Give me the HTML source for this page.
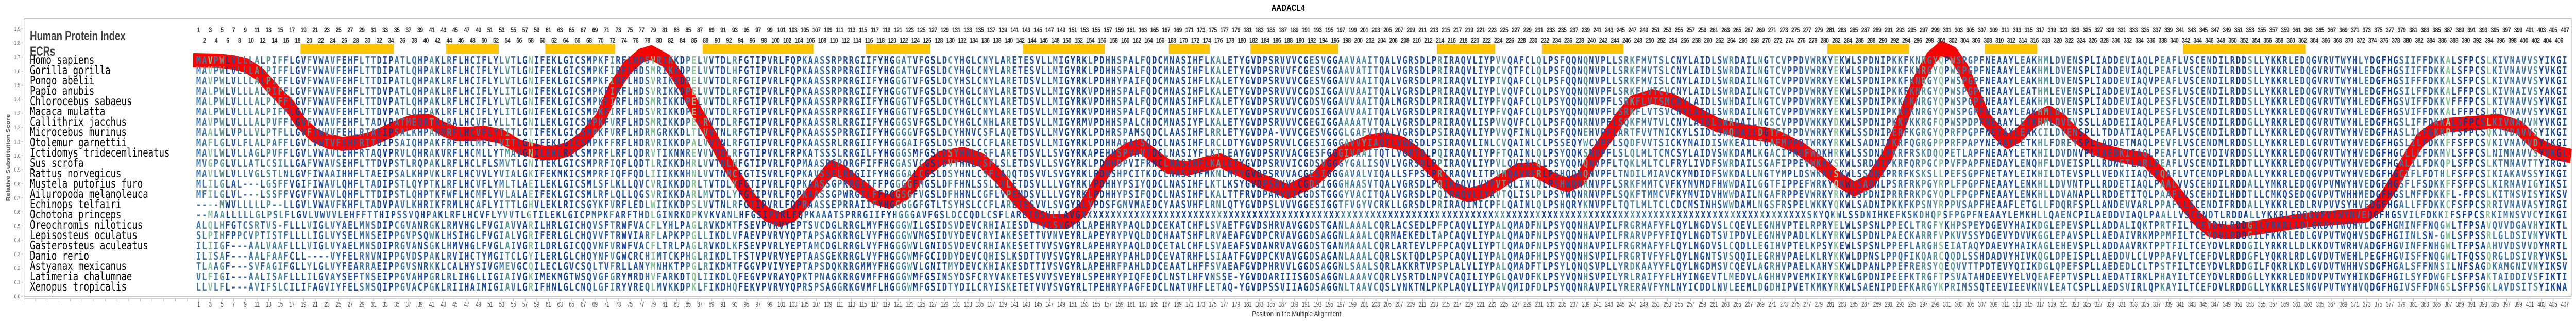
<!DOCTYPE html>
<html><head><meta charset="utf-8"><style>
html,body{margin:0;padding:0;background:#fff;overflow:hidden;width:100%;height:100%;}
#main{position:fixed;left:0;top:0;width:100vw;height:100vh;display:block;}
.nr{position:absolute;display:grid;grid-auto-flow:column;grid-auto-columns:30px;white-space:nowrap;font-family:"Liberation Sans",sans-serif;}
.nr i{font-style:normal;display:block;width:30px;text-align:center;}
.top{font-weight:bold;font-size:14px;letter-spacing:-0.8px;color:#333;line-height:18px;height:18px;}
.bot{font-size:13px;letter-spacing:-0.6px;color:#555;line-height:16px;height:16px;}
.c0{fill:#0b3b8f}.c2{fill:#3f73a3}.c3{fill:#5b9699}.c4{fill:#8cc49c}
</style></head><body>
<svg id="main" viewBox="0 0 6630 625" preserveAspectRatio="none" xmlns="http://www.w3.org/2000/svg">
<defs>
<pattern id="tk" patternUnits="userSpaceOnUse" x="61" y="580" width="30" height="5"><rect x="0" y="0" width="1" height="5" fill="#999"/></pattern>
<pattern id="pc" patternUnits="userSpaceOnUse" x="503.5" y="0" width="6105" height="625">
<g transform="scale(15,625)">
<rect x="0" y="0" width="407" height="1" fill="#1f4f9c"/>
<rect x="0" width="2" height="1" class="c2"/><rect x="2" width="1" height="1" class="c4"/><rect x="3" width="1" height="1" class="c2"/><rect x="4" width="1" height="1" class="c3"/><rect x="5" width="1" height="1" class="c0"/><rect x="7" width="3" height="1" class="c2"/><rect x="10" width="1" height="1" class="c3"/><rect x="12" width="1" height="1" class="c3"/><rect x="13" width="1" height="1" class="c2"/><rect x="14" width="1" height="1" class="c3"/><rect x="15" width="1" height="1" class="c2"/><rect x="17" width="1" height="1" class="c0"/><rect x="19" width="1" height="1" class="c3"/><rect x="22" width="3" height="1" class="c2"/><rect x="28" width="3" height="1" class="c2"/><rect x="32" width="2" height="1" class="c0"/><rect x="34" width="4" height="1" class="c2"/>
<rect x="40" width="1" height="1" class="c3"/><rect x="43" width="1" height="1" class="c2"/><rect x="46" width="1" height="1" class="c0"/><rect x="48" width="1" height="1" class="c2"/><rect x="52" width="1" height="1" class="c2"/><rect x="53" width="1" height="1" class="c3"/><rect x="54" width="1" height="1" class="c2"/><rect x="56" width="1" height="1" class="c0"/><rect x="57" width="1" height="1" class="c4"/><rect x="58" width="1" height="1" class="c0"/><rect x="63" width="1" height="1" class="c0"/><rect x="68" width="2" height="1" class="c2"/><rect x="71" width="1" height="1" class="c3"/><rect x="77" width="1" height="1" class="c2"/><rect x="78" width="1" height="1" class="c4"/><rect x="79" width="1" height="1" class="c2"/><rect x="81" width="1" height="1" class="c2"/><rect x="83" width="1" height="1" class="c0"/><rect x="84" width="1" height="1" class="c2"/><rect x="85" width="1" height="1" class="c4"/><rect x="87" width="1" height="1" class="c3"/><rect x="91" width="1" height="1" class="c2"/><rect x="92" width="1" height="1" class="c3"/><rect x="93" width="2" height="1" class="c0"/><rect x="96" width="2" height="1" class="c0"/><rect x="100" width="4" height="1" class="c0"/><rect x="104" width="1" height="1" class="c2"/><rect x="106" width="2" height="1" class="c2"/><rect x="110" width="1" height="1" class="c2"/>
<rect x="116" width="1" height="1" class="c2"/><rect x="117" width="3" height="1" class="c0"/><rect x="120" width="1" height="1" class="c3"/><rect x="121" width="1" height="1" class="c2"/><rect x="122" width="1" height="1" class="c3"/><rect x="123" width="1" height="1" class="c0"/><rect x="124" width="1" height="1" class="c2"/><rect x="125" width="2" height="1" class="c0"/><rect x="129" width="1" height="1" class="c3"/><rect x="130" width="1" height="1" class="c2"/><rect x="135" width="2" height="1" class="c2"/><rect x="139" width="1" height="1" class="c3"/><rect x="147" width="1" height="1" class="c2"/><rect x="149" width="3" height="1" class="c0"/><rect x="153" width="1" height="1" class="c2"/><rect x="154" width="2" height="1" class="c0"/><rect x="158" width="2" height="1" class="c2"/><rect x="162" width="1" height="1" class="c2"/><rect x="164" width="2" height="1" class="c0"/><rect x="166" width="1" height="1" class="c2"/><rect x="174" width="1" height="1" class="c2"/><rect x="175" width="1" height="1" class="c3"/><rect x="180" width="3" height="1" class="c0"/>
<rect x="189" width="2" height="1" class="c0"/><rect x="191" width="1" height="1" class="c2"/><rect x="193" width="1" height="1" class="c2"/><rect x="194" width="2" height="1" class="c0"/><rect x="196" width="1" height="1" class="c2"/><rect x="197" width="1" height="1" class="c3"/><rect x="198" width="2" height="1" class="c2"/><rect x="200" width="1" height="1" class="c3"/><rect x="201" width="2" height="1" class="c2"/><rect x="211" width="2" height="1" class="c0"/><rect x="213" width="1" height="1" class="c3"/><rect x="223" width="2" height="1" class="c3"/><rect x="230" width="1" height="1" class="c3"/><rect x="231" width="2" height="1" class="c0"/><rect x="234" width="1" height="1" class="c2"/><rect x="238" width="1" height="1" class="c3"/><rect x="244" width="2" height="1" class="c2"/><rect x="246" width="1" height="1" class="c3"/><rect x="247" width="6" height="1" class="c2"/><rect x="260" width="1" height="1" class="c2"/>
<rect x="262" width="1" height="1" class="c2"/><rect x="263" width="1" height="1" class="c3"/><rect x="268" width="1" height="1" class="c3"/><rect x="269" width="1" height="1" class="c0"/><rect x="270" width="1" height="1" class="c3"/><rect x="271" width="2" height="1" class="c2"/><rect x="276" width="3" height="1" class="c2"/><rect x="281" width="1" height="1" class="c4"/><rect x="283" width="1" height="1" class="c0"/><rect x="286" width="1" height="1" class="c2"/><rect x="291" width="2" height="1" class="c2"/><rect x="294" width="2" height="1" class="c2"/><rect x="296" width="1" height="1" class="c3"/><rect x="297" width="1" height="1" class="c2"/><rect x="298" width="1" height="1" class="c3"/><rect x="299" width="1" height="1" class="c4"/><rect x="300" width="1" height="1" class="c0"/><rect x="301" width="1" height="1" class="c3"/><rect x="302" width="4" height="1" class="c2"/><rect x="313" width="1" height="1" class="c2"/><rect x="316" width="2" height="1" class="c3"/><rect x="319" width="4" height="1" class="c2"/><rect x="323" width="3" height="1" class="c0"/><rect x="330" width="2" height="1" class="c2"/><rect x="334" width="1" height="1" class="c2"/>
<rect x="337" width="1" height="1" class="c3"/><rect x="338" width="2" height="1" class="c2"/><rect x="345" width="1" height="1" class="c2"/><rect x="350" width="2" height="1" class="c0"/><rect x="352" width="1" height="1" class="c3"/><rect x="362" width="1" height="1" class="c2"/><rect x="371" width="2" height="1" class="c2"/><rect x="373" width="5" height="1" class="c0"/><rect x="378" width="4" height="1" class="c2"/><rect x="384" width="2" height="1" class="c2"/><rect x="386" width="1" height="1" class="c4"/><rect x="389" width="3" height="1" class="c0"/><rect x="393" width="1" height="1" class="c4"/><rect x="394" width="7" height="1" class="c2"/><rect x="401" width="1" height="1" class="c3"/><rect x="402" width="1" height="1" class="c0"/><rect x="405" width="1" height="1" class="c0"/>
</g>
</pattern>
</defs>
<rect x="0" y="0" width="6630" height="625" fill="#fff"/>
<text x="3315" y="21" text-anchor="middle" font-family="Liberation Sans" font-weight="bold" font-size="18" fill="#000">AADACL4</text>
<rect x="62" y="36" width="6556" height="539" fill="none" stroke="#888" stroke-width="1"/>
<line x1="59" y1="36" x2="59" y2="575" stroke="#aaa"/>
<line x1="62" y1="580" x2="6618" y2="580" stroke="#aaa"/>
<rect x="61" y="580" width="6543" height="5" fill="url(#tk)"/>
<g stroke="#aaa"><path d="M55 575h4M55 547.7h4M55 520.4h4M55 493h4M55 465.7h4M55 438.4h4M55 411.1h4M55 383.8h4M55 356.4h4M55 329.1h4M55 301.8h4M55 274.5h4M55 247.2h4M55 219.8h4M55 192.5h4M55 165.2h4M55 137.9h4M55 110.6h4M55 83.2h4M55 55.9h4"/></g>
<g font-family="Liberation Sans" font-size="11" fill="#666" text-anchor="end">
<text x="52" y="579">0.0</text><text x="52" y="551.7">0.1</text><text x="52" y="524.4">0.2</text><text x="52" y="497">0.3</text><text x="52" y="469.7">0.4</text><text x="52" y="442.4">0.5</text><text x="52" y="415.1">0.6</text><text x="52" y="387.8">0.7</text><text x="52" y="360.4">0.8</text><text x="52" y="333.1">0.9</text><text x="52" y="305.8">1.0</text><text x="52" y="278.5">1.1</text><text x="52" y="251.2">1.2</text><text x="52" y="223.8">1.3</text><text x="52" y="196.5">1.4</text><text x="52" y="169.2">1.5</text><text x="52" y="141.9">1.6</text><text x="52" y="114.6">1.7</text><text x="52" y="87.2">1.8</text><text x="52" y="59.9">1.9</text>
</g>
<text transform="translate(25,306) rotate(-90)" text-anchor="middle" font-family="Liberation Sans" font-weight="bold" font-size="13" fill="#555">Relative Substitution Score</text>
<text x="3337" y="614" text-anchor="middle" font-family="Liberation Sans" font-size="15" fill="#333" textLength="229" lengthAdjust="spacingAndGlyphs">Position in the Multiple Alignment</text>
<text x="77" y="78" font-family="Liberation Sans" font-weight="bold" font-size="25" fill="#444" textLength="246" lengthAdjust="spacingAndGlyphs">Human Protein Index</text>
<text x="77" y="108" font-family="Liberation Sans" font-weight="bold" font-size="25" fill="#444" textLength="65" lengthAdjust="spacingAndGlyphs">ECRs</text>
<g fill="#ffc400">
<rect x="773.5" y="85" width="240" height="19"/><rect x="1148.5" y="85" width="135" height="19"/><rect x="1403.5" y="85" width="180" height="19"/><rect x="1808.5" y="85" width="285" height="19"/><rect x="2228.5" y="85" width="165" height="19"/><rect x="2633.5" y="85" width="210" height="19"/><rect x="3008.5" y="85" width="105" height="19"/><rect x="3218.5" y="85" width="225" height="19"/><rect x="3698.5" y="85" width="150" height="19"/><rect x="3968.5" y="85" width="210" height="19"/><rect x="4703.5" y="85" width="210" height="19"/><rect x="5108.5" y="85" width="135" height="19"/><rect x="5618.5" y="85" width="315" height="19"/>
</g>
<polyline fill="none" stroke="#ff0000" stroke-width="28" stroke-linejoin="round" stroke-linecap="butt" points="497,117 564,118 600,121 634,127 670,145 705,175 747,207 775,239 810,263 845,275 881,279 916,277 951,271 986,260 1022,247 1060,237 1105,235 1140,250 1175,260 1210,260 1246,258 1290,265 1337,285 1400,297 1430,296 1460,290 1500,270 1545,231 1580,171 1615,131 1650,108 1676,102 1715,118 1760,167 1795,219 1830,263 1866,311 1901,351 1937,391 1972,415 2007,426 2043,415 2078,383 2113,351 2141,325 2170,335 2210,359 2252,383 2288,391 2330,375 2372,335 2421,307 2478,299 2527,311 2576,347 2619,387 2661,418 2703,430 2746,430 2788,407 2823,359 2858,315 2901,291 2936,283 2971,303 3006,323 3056,327 3098,319 3140,311 3197,331 3246,351 3288,363 3315,372 3385,347 3456,295 3526,275 3562,271 3611,279 3653,303 3696,335 3738,367 3780,379 3822,371 3865,351 3907,331 3949,329 3992,347 4034,359 4069,347 4097,311 4132,271 4168,231 4203,199 4252,187 4302,195 4351,215 4420,243 4490,255 4561,263 4631,287 4688,319 4730,347 4772,367 4815,351 4857,303 4885,255 4913,199 4941,151 4970,112 4998,94 5026,104 5054,135 5082,183 5111,231 5139,255 5167,275 5195,263 5230,235 5273,219 5308,235 5343,263 5378,283 5421,295 5463,303 5498,307 5525,311 5567,343 5610,383 5652,422 5687,446 5736,450 5807,442 5877,434 5948,426 6018,422 6089,418 6124,398 6159,359 6195,311 6230,271 6265,251 6300,243 6371,239 6427,235 6483,247 6526,279 6568,295 6617,303"/>
<g font-family="DejaVu Sans Mono" font-weight="bold" font-size="20.5" fill="url(#pc)">
<text x="505" y="124" textLength="6102" lengthAdjust="spacing">MAVPWLVLLLALPIFFLGVFVWAVFEHFLTTDIPATLQHPAKLRFLHCIFLYLVTLGNIFEKLGICSMPKFIRFLHDSVRIKKDPELVVTDLRFGTIPVRLFQPKAASSRPRRGIIFYHGGATVFGSLDCYHGLCNYLARETESVLLMIGYRKLPDHHSPALFQDCMNASIHFLKALETYGVDPSRVVVCGESVGGAAVAAITQALVGRSDLPRIRAQVLIYPVVQAFCLQLPSFQQNQNVPLLSRKFMVTSLCNYLAIDLSWRDAILNGTCVPPDVWRKYEKWLSPDNIPKKFKNRGYQPWSPGPFNEAAYLEAKHMLDVENSPLIADDEVIAQLPEAFLVSCENDILRDDSLLYKKRLEDQGVRVTWYHLYDGFHGSIIFFDKKALSFPCSLKIVNAVVSYIKGI</text>
<text x="505" y="144" textLength="6102" lengthAdjust="spacing">MAVPWLVLLLALPIFFLGVFVWAVFEHFLTTDIPATLQHPAKLRFLHCIFLYLVTLGNIFEKLGICSMPKFIRFLHDSMRIKKDPELVVTDLHFGTIPVRLFQPKAASSRPRRGIIFYHGGATVFGSLDCYHGLCNYLARETESVLLMIGYRKLPDHHSPALFQDCMNASIHFLKALETYGVDPSRVVFCGESVGGAAVATITQALVGRSDLPRIRAQVLIYPCVQTFCLQLPSFQQNQNVPLLSRKFMVTSLCNYLAIDLSWRDAILNGTCVPPDVWRKYEKWLSPDNIPKKFKNRGYQPWSPGPFNEAAYLEAKHMLDVENSPLIADDEVIAQLPEAFLVSCENDILRDDSLLYKKRLEDQGVRVTWYHLEDGFHGSIIFFDKKALSFPCSLKIVNAVVSYVKGI</text>
<text x="505" y="164" textLength="6102" lengthAdjust="spacing">MAVPWLVLLLALPIFFLGVFVWAVFEHFLTTDIPATLQHPAKLRFLHCIFLYLVTLGNIFEKLGICSMPKFIRFLHDSVRIKKDPELVVTDLRFGTIPVRLFQPKAASSRPRRGIIFYHGGGTVFGSLDCYHSLCNYLARETDSVLLMIGYRKLPDHHYPAIFQDCMNASIHFLKALETYGVDPSRVVVCGESVGGAVVAAITQALVGRSDLPRIRAQVLIYPIVQAFCLQLPSFQQNQNVPLLSRKFMVISLCNYLAIDLSWRDAILNGTCVPPDVWRKYEKWLSPDNIPKKFKNRGYQPWSPGPFNEAAYLEAKHMLDVENSPLIADDEVIAQVPEAFLVSCENDILRDDSLLYKKRLEDQGVRVTWYHLEDGFHGSIFFFDKKALSFPCSLKIVNAVVSYVKGI</text>
<text x="505" y="184" textLength="6102" lengthAdjust="spacing">MALPWLVLLLALPIFFLGVFVWAVFEHFLTTDVPATLQHPAKLRFLHCIFLYLITLGNIFEKLGICSMPKFIRFLHDSVRIKKDPELVVTDLRFGTIPVRLFQPKAASSRPRRGIIFYHGGGTVFGSLDCYHGLCNYLARETDSVLLMIGYRKVPDHHSPALFQDCMNASIHFLKALETYGVDPSRVVVCGDSIGGAVVAAITQALVGRSDLPRIRAQVLIYPLVQVFCLQLPSYQQNQNVPFLSRKFLVTCVCNYLAIDLSWRDAILNGTCVPPDVWRKYEKWLSPDNIPKKFKNRGYQPWSPGPFNEAAYLEATHMLEVENSPLIADDEVIAQLPESFLVSCENDILRDDSLLYKKRLEDQGVRVTWYHLEDGFHGSILFFDKKALFFPCSLKIVNAIVSYAKGI</text>
<text x="505" y="204" textLength="6102" lengthAdjust="spacing">MALPWLVLLLALPIFFLGVFVWAVFEHFLTTDVPATLQHPAKLRFLHCIFLYLVTLGNIFEKLGICSMPKFIRFLHDSMRIKKDPELVVTDLRFGTIPVRLFQPKAASSRPRRGIIFYHGGGTVFGSLDCYHGLCNYLARETDSVLLMIGYRKVPDHHSPALFQDCMNASIHFLKALETYGVDPSRVVVCGDSVGGAVVAAITQALMGRSDLPRIRAQVLIYPFVQAFCLQLPSYQQNQNVPFLSRKFLVTSMCNYLAIDLSWHDAILNGTCVPPDVWRKYEKWLSPDNIPKKFKNRGYQPWSPGPFNEAAYLEAKHMLDVENSPLIADDEVIAQLPESFLVSCENDILRDDSLLYKKRLEDQGVRVTWYHLEDGFHGSVIFFDKKVFFFPCSLKIVNAVVSYVKGI</text>
<text x="505" y="224" textLength="6102" lengthAdjust="spacing">MALPWLVLLLALPIFFLGVFVWAVFEHFLTTDVPATLQHPAKLRFLHCIFLYLITLGNIFEKLGICSMPKFIRFLHDSVRIKKDPELVVTDLRFGTIPVRLFQPKAASSRPRRGIIFYHGGGTVFGSLDCYHGLCNYLARETDSVLLMIGYRKVPDHHSPALFQDCMNASIHFLKALETYGVDPSRVVVCGDSIGGAVVAAITQALVGRSDLPRIRAQVLIYPFVQAFCLQLPSYQQNQNVPFLSRKFLVTSVCNYLAIDLSWRDAILNGTCVPPDVWRKYEKWLSPDNIPKKFKNRGYQPWSPGPFNEAAYLEAKHMLDVENSPLIADDEVIAQLPESFLVSCENDILRDDSLLYKKRLEDQGVRVTWYHLEDGFHGSVIFFDKKALFFPCSLKIVNAVVSYVKGI</text>
<text x="505" y="244" textLength="6102" lengthAdjust="spacing">MAVPWLVLLLALPVFFLGVFVWAVFEHFLTADVPATMEQRTKLRALHCVFLYLLTLGNILEKLGICSMPKFVRFLHDSMRIKKDPELRVTDLRFGTIPVRLFQPKAASSRLRRGIIFYHGGGSVFGSLDCYHGLCNHLARETDSVLLMIGYRMVPDHHSPALCHDCMNASIYFLKALETYGVDPSRVVVCGEGIGGAAAATVTQALVGRSDLPRIRAQVLISPVVQVFCLQLPSFQQNRNVPFLSQKFMVTVLCNYLAIDLSWRDAILNGSCVPPDVWKKYDKWLSPDNIPKKFKKRGFQPWSPDPFNEAAYLETKHMLDVEVSSLLADDEIIAQLPEAFLVSCENDILRDDGLLYRKRLEDQGVRVTWYHLEDGFHGSLIFFDKKALSFPCSLKIVNAVVNYVKGI</text>
<text x="505" y="264" textLength="6102" lengthAdjust="spacing">MAALWLVPLLVLPTFLLGVFIWVVFEHLRTAEIPSALKHPAKMRFLHCVFLYTITLGTIFEKLGICSMPKFVRFLHDRMGRKKDLTLVVTNLRFGTIPVRLFQPKAASSSPRRGIIFYHGGGGVFGSLDCYHNVCSFLAQETDSVLLMVGYRKLPDHRSPAMSQDCLAASIHFLRRLETYGVDPA-VVVCGESVGGGLGAFVTQALVGRSDLPSIRAQVLIYPVVQFINLQLPSFQQNEHVPFLARTFVVTNICKYLSIDLSWQDAILDGTFIPPDVWRKYRKWLSSDNIPERFKGRGYQPRFPGPFNETAYLEAKCILDVENSPLLTDDATIAQLPEAFLVSCENDILRDDTLLYKKRLEDQGVRVTWYHVEDGFHASLILFGKKPFSFPCSQKIVDAVVSYIKGI</text>
<text x="505" y="284" textLength="6102" lengthAdjust="spacing">MAFLGLVLFLALPAFFLGVLVWTVFEHFRTTDIPSAIQHPAKFRFLHCMFLYVITLGNIFEKLGICSMPKFFRFLHDRVRIKKDPALVVTNLRFGTIPVRLFQPKAASSRLRRGIIFYHGGGAIFGSLDSYHSLCCFLARETDSVLLMIGYRKLPDHHAPALSQDCLNASIHFLRCLDTYGVDPSRVVLCGESIGGGAVVYIAQTLVGRSDLPSIRAQVLINLCVQAINLCLPSSEQYWCVPFLSQDFVVTSICKYMAIDISWKEAILTGAFMPPDTWRKYRKWLSADNIPKRFQGRGPPPRFPAPYNEAAYLETKHLFDREYSPLLADDETMAQLPEVFLVSCENDMLRDDSLLYKKRLEDLGVRVTWYHVEDGFHGSLILFDKKFFSFPCSVKIVNAVVDYIKGI</text>
<text x="505" y="304" textLength="6102" lengthAdjust="spacing">MAVLWLVLLAGLPVFFLGVLVWAVLEHFRTAQVPRVLQHRAKVRFLHCMLLYTMAVGNILEKLRICSMPRFLRFLQDRVTIKNNREVVVTDLRFGTIPVRLFRPKATSSSLRRGILFYHGGGSMFGSLDSYHNLCSFLARETDSVLLSVGYRKAPEHHSPVAVTDCLNASIYFLKTLEAYGVDPSRVVACGESFGGGIVAAITQTLVGRTDLPQIRAQVLIYPFTQAINLQLPSYQQKSNVPFLSLQLMLTCMCSYLAIDVSWKDAMLKGACIPRDFWDKHRKWLSSDNLPKRFRSKDQQPETLAPFNEAAYLETKHILDVDNVPLIAEDKIIAQLPEAFLVTCEVDIVRDDSLLYKKRLEDQGVRVTWYHVEDGFHGCLLLFDKMVLSFPCSLNIMNAVVSYVKGL</text>
<text x="505" y="324" textLength="6102" lengthAdjust="spacing">MVGPGLVLLATLCSILLGAFVWAVSEHFLTTDVPSTLRQPAKLRFLHCLFLSMVTLGNITEKLGICSMPRFIQFLQDTLRIKKDHRLVVTNLHFGTIPVRLFQPMAASPSPQRGFIFFHGGASVCGSLDVYHNLCSFLSLETDSVLLSVGYRKLPDHHDPVIFRNCLNASIHFLKALETYGVDPSRVVICGDSVGGGYGALISQVLVGRSDLPPIRAQVLIYPVLQVINLQLPSYQQNQNVPFLTQKLMLTCLFRYLIVDFSWRDAILSGAFIPPEVWKKYSKWLSRDNIPKRFQRPGCPPVFPAPFNEDAYLENQHFLDVEISPLLRDNETLARLPEAFLVSCENDILRDDTLLYKKRLEDQGVPVTWYHVEDGFHGALILFDKQPLSFPCSLKTMNAVTTYIRGI</text>
<text x="505" y="344" textLength="6102" lengthAdjust="spacing">MAVLWLVLLVGLSTLNLGVFIWAAIHHFLTAEIPSALKHPVKLRFLHCVVLYVIALGKIFEKMKICSMPRFIQFFQDLIIIKKNHNLVVTNMCFGTISVRLFQPKAVSSELRRGIIFYHGGGALCGSLDSYHNLCSFLAQQTDSVVLSVGYRKLPDHSHPCITKDCLNASIYFMKNLMTYGVDPSRVVACGESIGGGAVALVIQALLSFPSLPRIRAQVLITPVMQAVNFRLPSHQQNQNVPFLTNDILMIAVCKYMDIDFSWKDALLNGTYMPLDSWKKYSKWLSSDNIPRRFKSKSLLPEFSGPFNETAYLEIKHILDTEVSPLLVEDKIIAQLPQAFLVTCENDPLRDDALLYKKRLEDQGVPVTWYHVEDGFHGCIFLFDTHLFSFPCSIKIAKAVSSYIKGI</text>
<text x="505" y="364" textLength="6102" lengthAdjust="spacing">MLILGLAL---LGSFFVGIFIWAVLQHFLTADIPSTLQYPTKLRFLHCVFLYMLTLAEILEKLGICSMLSFLKLLQVCVRIKKDDRLTVTDLYFGTIPVRLFQPKAASSGPRRGIIFFPGGGGFMGSLDFFHNLSSLLVLETDSVLLLVGYRKLPDHHYPSIYQDCLNASIHFLKTLKSYGVDPSRVVLCGDSIGGGHAASVTQALVGRSDLPQIKAQVLVYPVTQLINLQLPSHWQNRNVPFLSRKFMMTCVFKYMVMDFHWWDAILGGTFIPPEFWRKYQKWLSADNLPSRFRKPGYRPLFPGPFNEAAYLENKHLLDVVNTPLLRDDETIAQLPAALVVSCEHDILRDDALLYMKRLEDQGVPVMWYHVEDGFHGSFLFSDKKFFSFPCSLKIRNAVIGYIKSI</text>
<text x="505" y="384" textLength="6102" lengthAdjust="spacing">MFILGLVL---LSSFFVGVFVWAVLQHFLTTDIPSTLQHPTKFWFLHCMFLYVLALAEIFEKLGICSMLRFLQLLQGSVRIKKDARLMVTDLYFGTIPVRLFQPKAASSGPWRGILFFPGGSGFVGSLDFHHNLCGFLVPEMDSVLLLVGYRKLPDHHYPSIFQDCLNASIHFLKALTTFRVDPARVVICGDSTGGGYVACITQALVGRSDLPQIRAQVLIYAVTQLISLPLPSYWQNRNVPFLSQKFTMMCVFKYMVIDVHWWDAILNGAFRPPEVWRKYRKWLSPDNIPRRFRKPGYQPLFPGPFNEAAYLENKHLLDVANAPLLRDDETITQLPAAFLVSCEHDILHDDTLLCMKQSEDQGVPVTWHHMEDGFHGSLMFFDKKFL-FPCSLKITNSVISYIKSV</text>
<text x="505" y="404" textLength="6102" lengthAdjust="spacing">----MWVLLLLLP--LLGVLVWAVFKHFLTADVPAVLKHRIKFRMLHCAFLYITTLGHVLEKLRICSGYKFVRFLEDLWIIKKDPSLVVTNLRFGTIPVRLFQPRAASSEPRRAIIFYHGGGGGFGTLTSYHSLCCFLARETESVVLSVGYRLYPDSFGMVMAEDCYAASVHFLRNLQTYGVDPSLVVVGGESIGGTFVGYVCRKLLGRSDLPRIRAQIMICPFLQAINLQLPSHQRYKNVPFLTQTLMLTCLCDCMSINHSWWDAMLNGSFRSPELWKKYQKWLSADNIPKKFKPSNYRPPVSAPFHEAAFLETGLLFDQRFSPLLANDEVVARLPPAFLLSCENDIFRDDALLYKKRLEDLRVPVVSYHVEDGFHGALLFFDKKCFSFPCSRRIVNAVASYIRGI</text>
<text x="505" y="424" textLength="6102" lengthAdjust="spacing">--MAALLLLLGLPSLFLGVLVWVVLEHFFTTHIPSSVQHPAKLRFLHCVFLYVVTLGTILEKLGICPMPKFARFTHDLGINRKDPKVKVANLHFGSIPVRLFQPKAAATSPRRGIIFYHGGGAVFGSLDCCQDLCSFLARETDSVLLAVGXXXXXXXXXXXXXXXXXXXXXXXXXXXXXXXXXXXXXXXXXXXXXXXXXXXXXXXXXXXXXXXXXXXXXXXXXXXXXXXXXXXXXXXXXXXXXXXXXXXXXXXXXXXXXXXXXXXXXXXXXXXSKYQKWLSSDNIHKEFKSKDHQPSFPGPFNEAAYLEMKHLLQAENCPILAEDDVIAQLPAALLVSCENDTLRDDALLYKKRLEDQGVPVTWYNVEDGFHGSVILFDKKIFSFPCSRKIMNSVVCYIKGI</text>
<text x="505" y="444" textLength="6102" lengthAdjust="spacing">ALQLHFGTCSRTVS-FLLLVIGLVYAELMNSDIPCGVANRGKLRMVHGLFVGIAVVARILHRLGICHQVSFTRWFVACFLYHLPAGLRVKDMTFSEVPVRVYEPTSVCDGLRRGLMYFHGGGWILGSIDSVDEVCRHIAIESDTTVISVGYRLAPEHRYPAQLDDCEKATCHFLSVAETFGVDSHRVAVGGDSTGANLAAALCQRLACSEDLPFPCAQVLIYPALQMADFNLPSYQQNHAVPILFRGRMAFYFLQYLNGDVSLCQEVLEGNHVPTELRPRYELWLSPSNLPPECLTRGFYKHPSPEYDGEVYHAIKDGLEPEVSPLLADDALIQKTPRTFILTCEYDVLRDDGILYRKRLLDLGKDVTWQHVLDGFHGMINFFNQGWLTFPSAVQVVDGAVHYIKTL</text>
<text x="505" y="464" textLength="6102" lengthAdjust="spacing">SLPIHFPPCVPTISTFLLLLIGLVYSELMNSEIPPGVPSQWKLHSIHGLFVGIALVGRIFERLGLCHQVVFTRWVIARFLAPKPPGLLIKDLVFAEVPVRVYQPTAPSAGKRRGLVYFHGGGWVMGSIDVYDEVCRYIAKESETTVVNVEYRLAPEYRYPVQLDDCHAATSHFLRVAEAFGVDPCRVAVGGDSAGGNLAAALCQRMAEKEDLTAPCAQVLIYPALQMADFNLPSYQQNHAVPILFRARVPFYFIQYLNGDTSVIPDVLEGNHVPADLKLKYRKWLSPDNLPAECKARRFVPKVVSSYDGEVYDVVKGGLEPAVSPLLAEDAIVRKMPPMFILTCEYDVLRDDGILFKKRLEDLGVPVTWQHVSDGFHGIINLSN-GWLSFPSSRLGLDSIVNYVKTL</text>
<text x="505" y="484" textLength="6102" lengthAdjust="spacing">ILIIGF---AALVAAFLLLVIGLVYAELMNSDIPRGVANSGKLHMVHGLFVGLAIVGRILDRLGICQQVNFVRWFVACFLTRLPAGLRVKDLKFSEVPVRLYEPTAMCDGLRRGLVYFHGGGWVLGNIDSVDEVCRHIAKESETTVVSVGYRLAPEHRYPAQLDDCETALCHFLSVAEAFSVDANRVAVGGDSTGANMAAALCQRLARTEVLPFPCAQVLIYPTLQMADFNLPSYQQNHAVPILFRGRMAFYFLQYLNGDVSLCQDLLEGIHVPTELKPSYKEWLSPSNLPPEFLARGHSEIATAQYDAEVYHAIKAGLEHEVSPLLADDAAVRKTPPTFILTCEYDVLRDDGILYRKRLLDLKKDVTWRHVADGFHGVINFFNHGWLTFPSAAHVVDSVVDYMRTL</text>
<text x="505" y="504" textLength="6102" lengthAdjust="spacing">ILISAF---AALFAAFCLL----VYFELRNVNIPPGVDSPAKLRVIHCTYMGITCLGYILERLGLCHQYNFVGWCRCHIMTCKPHGLRIKDLTFSTVPVRVYEPTAASGEKRRGLVYFHGGGWMFGCIDDYDEVCQHISLKSDTTVVSVGYRLAPEHRYPAHLDDCEVATRHFLSIAATFGVDPCKVAVGGDSAGANLAAALCQRLSKTQDLPSPCAQVLIYPALQMADFHLPSYQQNHSVPILFRGRTVFYFLQYLNGNTSVSQQILEGRHVPAELKLRYKKWLDPNSLPPQFIKQARCQQDLSSHDADVYHIVKQGLDPEISPLLAEDDVLCLVPPAFVLTCEFDVLRDDGFLYQKRLRDLGVDVTWEHLPEGFHGVISFFNQGWLTFQSSQRGLDSIVRYVKSL</text>
<text x="505" y="524" textLength="6102" lengthAdjust="spacing">TLAAGF---SVFAGIFGLLYLGLVYFEARRAEIPPGVSNRKKLCALHYSIVGMEVGCQILECLGVCSQLTVFRLLANYMNHKTPPGLRIKDMTFGGVPVIVYEPTAPSDQKRRGMMYFHGGGWVLGNITMYDEVCKHIAKESDTTIVSVGYRLAPEHRFPAHLDDCEAATLHFFSVAEAFGVDPHRVVLGGDSAGGNLSAALSQRLAKKRTVPSPLALVLIYPALQMADFTLPSYLQNQSVPLLYRDKAAYYFLQYLNGDMSVCQEVLAGRHVPAELKAHYSKWLDPANLPPEFRERSYQEQVVTTPDTEVYQIIKDGLQPEFSPLLAEDEDLCLTPSTFILTCEYDVLRDDGILFQKRLKDLGVDVTWHHVSDGFHGALSFFNNSILNFSAGDKAMGNIVNYIKSV</text>
<text x="505" y="544" textLength="6102" lengthAdjust="spacing">VLFIGI---AALISAFLLLILGVAYSEFTNSEIPPGVAHPGRLRLIHGLLIGIAIVGKIMEKMGTWSQVGFGRYMRDHVFARKDTQLIIKDLQFEGVPVRAYQPKTPNAGKRRGVMFFHGGGWMFGSINSYDSFCRYVAKETESVVVSVEYHLSPEHRYPIQFEDCLNSTLHFVNSSE-YGVDDARIIISGDSAGGNLAAAVCQRLVSRTDLNPVCAQILIYPGLQAVDFKLPSYVQNHSVPILYRLRAIFYFLHYINGEVTLMEDVLAGHHVPVEMKIKYRKWLGPDNIPEEFKTRGFTPSVATAHDEEVYELVQEAFEPTVSPLLAEDATIRKLPHAYILTCEYDVLRDDGLLYKKRLEDNDVPVTWYHIKDGFHGILSYFDWGFLSFPSAKTAIDDIVSFIKTI</text>
<text x="505" y="564" textLength="6102" lengthAdjust="spacing">LLVLFL---AVIFSLCILIFAGVIYFELSNSQIPPGVACPGKLRIIHAIMIGIAVLGRIFHNLGLCNQLGFIRYVREQLMVKKDPKLFIKDHQFEKVPVRVYQPRSPSAGGRKGVMFLHGGGWMFGSIDTYDILCRYISKETETVVVSVGYRLTPEHRYPAGFEDCLNATVHFLETAQ-YGVDPSSVIIAGDSAGGNLTAAVCQSLVNKTNLPKPLAQVLIYPAVQMIDFDLPSYQQNRAVPILYRERAVFYMLNYICDDLNVLEEMLDGDHIPVETKMKYRKWLSAENIPDEFKARGYKPRIMSSQTEEVIEEVKNVLEATCSPLLAEDSVIRLQPKAYILTCEFDVLRDDGLLYKKRLESNGVPVTWYHVQDGFHGIVSFFDNGSLSFPSGKLAVDSITSYIKNA</text>
</g>
<g font-family="DejaVu Sans Mono" font-size="23" fill="#000">
<text x="77" y="124">Homo sapiens</text><text x="77" y="144">Gorilla gorilla</text><text x="77" y="164">Pongo abelii</text><text x="77" y="184">Papio anubis</text><text x="77" y="204">Chlorocebus sabaeus</text><text x="77" y="224">Macaca mulatta</text><text x="77" y="244">Callithrix jacchus</text><text x="77" y="264">Microcebus murinus</text><text x="77" y="284">Otolemur garnettii</text><text x="77" y="304">Ictidomys tridecemlineatus</text><text x="77" y="324">Sus scrofa</text><text x="77" y="344">Rattus norvegicus</text><text x="77" y="364">Mustela putorius furo</text><text x="77" y="384">Ailuropoda melanoleuca</text><text x="77" y="404">Echinops telfairi</text><text x="77" y="424">Ochotona princeps</text><text x="77" y="444">Oreochromis niloticus</text><text x="77" y="464">Lepisosteus oculatus</text><text x="77" y="484">Gasterosteus aculeatus</text><text x="77" y="504">Danio rerio</text><text x="77" y="524">Astyanax mexicanus</text><text x="77" y="544">Latimeria chalumnae</text><text x="77" y="564">Xenopus tropicalis</text>
</g>
<foreignObject x="0" y="0" width="6630" height="625">
<div xmlns="http://www.w3.org/1999/xhtml" style="position:relative;width:6630px;height:625px;overflow:hidden;">
<div class="nr top" style="left:496px;top:49px;"><i>1</i><i>3</i><i>5</i><i>7</i><i>9</i><i>11</i><i>13</i><i>15</i><i>17</i><i>19</i><i>21</i><i>23</i><i>25</i><i>27</i><i>29</i><i>31</i><i>33</i><i>35</i><i>37</i><i>39</i><i>41</i><i>43</i><i>45</i><i>47</i><i>49</i><i>51</i><i>53</i><i>55</i><i>57</i><i>59</i><i>61</i><i>63</i><i>65</i><i>67</i><i>69</i><i>71</i><i>73</i><i>75</i><i>77</i><i>79</i><i>81</i><i>83</i><i>85</i><i>87</i><i>89</i><i>91</i><i>93</i><i>95</i><i>97</i><i>99</i><i>101</i><i>103</i><i>105</i><i>107</i><i>109</i><i>111</i><i>113</i><i>115</i><i>117</i><i>119</i><i>121</i><i>123</i><i>125</i><i>127</i><i>129</i><i>131</i><i>133</i><i>135</i><i>137</i><i>139</i><i>141</i><i>143</i><i>145</i><i>147</i><i>149</i><i>151</i><i>153</i><i>155</i><i>157</i><i>159</i><i>161</i><i>163</i><i>165</i><i>167</i><i>169</i><i>171</i><i>173</i><i>175</i><i>177</i><i>179</i><i>181</i><i>183</i><i>185</i><i>187</i><i>189</i><i>191</i><i>193</i><i>195</i><i>197</i><i>199</i><i>201</i><i>203</i><i>205</i><i>207</i><i>209</i><i>211</i><i>213</i><i>215</i><i>217</i><i>219</i><i>221</i><i>223</i><i>225</i><i>227</i><i>229</i><i>231</i><i>233</i><i>235</i><i>237</i><i>239</i><i>241</i><i>243</i><i>245</i><i>247</i><i>249</i><i>251</i><i>253</i><i>255</i><i>257</i><i>259</i><i>261</i><i>263</i><i>265</i><i>267</i><i>269</i><i>271</i><i>273</i><i>275</i><i>277</i><i>279</i><i>281</i><i>283</i><i>285</i><i>287</i><i>289</i><i>291</i><i>293</i><i>295</i><i>297</i><i>299</i><i>301</i><i>303</i><i>305</i><i>307</i><i>309</i><i>311</i><i>313</i><i>315</i><i>317</i><i>319</i><i>321</i><i>323</i><i>325</i><i>327</i><i>329</i><i>331</i><i>333</i><i>335</i><i>337</i><i>339</i><i>341</i><i>343</i><i>345</i><i>347</i><i>349</i><i>351</i><i>353</i><i>355</i><i>357</i><i>359</i><i>361</i><i>363</i><i>365</i><i>367</i><i>369</i><i>371</i><i>373</i><i>375</i><i>377</i><i>379</i><i>381</i><i>383</i><i>385</i><i>387</i><i>389</i><i>391</i><i>393</i><i>395</i><i>397</i><i>399</i><i>401</i><i>403</i><i>405</i><i>407</i></div>
<div class="nr top" style="left:511px;top:69px;"><i>2</i><i>4</i><i>6</i><i>8</i><i>10</i><i>12</i><i>14</i><i>16</i><i>18</i><i>20</i><i>22</i><i>24</i><i>26</i><i>28</i><i>30</i><i>32</i><i>34</i><i>36</i><i>38</i><i>40</i><i>42</i><i>44</i><i>46</i><i>48</i><i>50</i><i>52</i><i>54</i><i>56</i><i>58</i><i>60</i><i>62</i><i>64</i><i>66</i><i>68</i><i>70</i><i>72</i><i>74</i><i>76</i><i>78</i><i>80</i><i>82</i><i>84</i><i>86</i><i>88</i><i>90</i><i>92</i><i>94</i><i>96</i><i>98</i><i>100</i><i>102</i><i>104</i><i>106</i><i>108</i><i>110</i><i>112</i><i>114</i><i>116</i><i>118</i><i>120</i><i>122</i><i>124</i><i>126</i><i>128</i><i>130</i><i>132</i><i>134</i><i>136</i><i>138</i><i>140</i><i>142</i><i>144</i><i>146</i><i>148</i><i>150</i><i>152</i><i>154</i><i>156</i><i>158</i><i>160</i><i>162</i><i>164</i><i>166</i><i>168</i><i>170</i><i>172</i><i>174</i><i>176</i><i>178</i><i>180</i><i>182</i><i>184</i><i>186</i><i>188</i><i>190</i><i>192</i><i>194</i><i>196</i><i>198</i><i>200</i><i>202</i><i>204</i><i>206</i><i>208</i><i>210</i><i>212</i><i>214</i><i>216</i><i>218</i><i>220</i><i>222</i><i>224</i><i>226</i><i>228</i><i>230</i><i>232</i><i>234</i><i>236</i><i>238</i><i>240</i><i>242</i><i>244</i><i>246</i><i>248</i><i>250</i><i>252</i><i>254</i><i>256</i><i>258</i><i>260</i><i>262</i><i>264</i><i>266</i><i>268</i><i>270</i><i>272</i><i>274</i><i>276</i><i>278</i><i>280</i><i>282</i><i>284</i><i>286</i><i>288</i><i>290</i><i>292</i><i>294</i><i>296</i><i>298</i><i>300</i><i>302</i><i>304</i><i>306</i><i>308</i><i>310</i><i>312</i><i>314</i><i>316</i><i>318</i><i>320</i><i>322</i><i>324</i><i>326</i><i>328</i><i>330</i><i>332</i><i>334</i><i>336</i><i>338</i><i>340</i><i>342</i><i>344</i><i>346</i><i>348</i><i>350</i><i>352</i><i>354</i><i>356</i><i>358</i><i>360</i><i>362</i><i>364</i><i>366</i><i>368</i><i>370</i><i>372</i><i>374</i><i>376</i><i>378</i><i>380</i><i>382</i><i>384</i><i>386</i><i>388</i><i>390</i><i>392</i><i>394</i><i>396</i><i>398</i><i>400</i><i>402</i><i>404</i><i>406</i></div>
<div class="nr bot" style="left:496px;top:583px;"><i>1</i><i>3</i><i>5</i><i>7</i><i>9</i><i>11</i><i>13</i><i>15</i><i>17</i><i>19</i><i>21</i><i>23</i><i>25</i><i>27</i><i>29</i><i>31</i><i>33</i><i>35</i><i>37</i><i>39</i><i>41</i><i>43</i><i>45</i><i>47</i><i>49</i><i>51</i><i>53</i><i>55</i><i>57</i><i>59</i><i>61</i><i>63</i><i>65</i><i>67</i><i>69</i><i>71</i><i>73</i><i>75</i><i>77</i><i>79</i><i>81</i><i>83</i><i>85</i><i>87</i><i>89</i><i>91</i><i>93</i><i>95</i><i>97</i><i>99</i><i>101</i><i>103</i><i>105</i><i>107</i><i>109</i><i>111</i><i>113</i><i>115</i><i>117</i><i>119</i><i>121</i><i>123</i><i>125</i><i>127</i><i>129</i><i>131</i><i>133</i><i>135</i><i>137</i><i>139</i><i>141</i><i>143</i><i>145</i><i>147</i><i>149</i><i>151</i><i>153</i><i>155</i><i>157</i><i>159</i><i>161</i><i>163</i><i>165</i><i>167</i><i>169</i><i>171</i><i>173</i><i>175</i><i>177</i><i>179</i><i>181</i><i>183</i><i>185</i><i>187</i><i>189</i><i>191</i><i>193</i><i>195</i><i>197</i><i>199</i><i>201</i><i>203</i><i>205</i><i>207</i><i>209</i><i>211</i><i>213</i><i>215</i><i>217</i><i>219</i><i>221</i><i>223</i><i>225</i><i>227</i><i>229</i><i>231</i><i>233</i><i>235</i><i>237</i><i>239</i><i>241</i><i>243</i><i>245</i><i>247</i><i>249</i><i>251</i><i>253</i><i>255</i><i>257</i><i>259</i><i>261</i><i>263</i><i>265</i><i>267</i><i>269</i><i>271</i><i>273</i><i>275</i><i>277</i><i>279</i><i>281</i><i>283</i><i>285</i><i>287</i><i>289</i><i>291</i><i>293</i><i>295</i><i>297</i><i>299</i><i>301</i><i>303</i><i>305</i><i>307</i><i>309</i><i>311</i><i>313</i><i>315</i><i>317</i><i>319</i><i>321</i><i>323</i><i>325</i><i>327</i><i>329</i><i>331</i><i>333</i><i>335</i><i>337</i><i>339</i><i>341</i><i>343</i><i>345</i><i>347</i><i>349</i><i>351</i><i>353</i><i>355</i><i>357</i><i>359</i><i>361</i><i>363</i><i>365</i><i>367</i><i>369</i><i>371</i><i>373</i><i>375</i><i>377</i><i>379</i><i>381</i><i>383</i><i>385</i><i>387</i><i>389</i><i>391</i><i>393</i><i>395</i><i>397</i><i>399</i><i>401</i><i>403</i><i>405</i><i>407</i></div>
</div>
</foreignObject>
</svg>
</body></html>
